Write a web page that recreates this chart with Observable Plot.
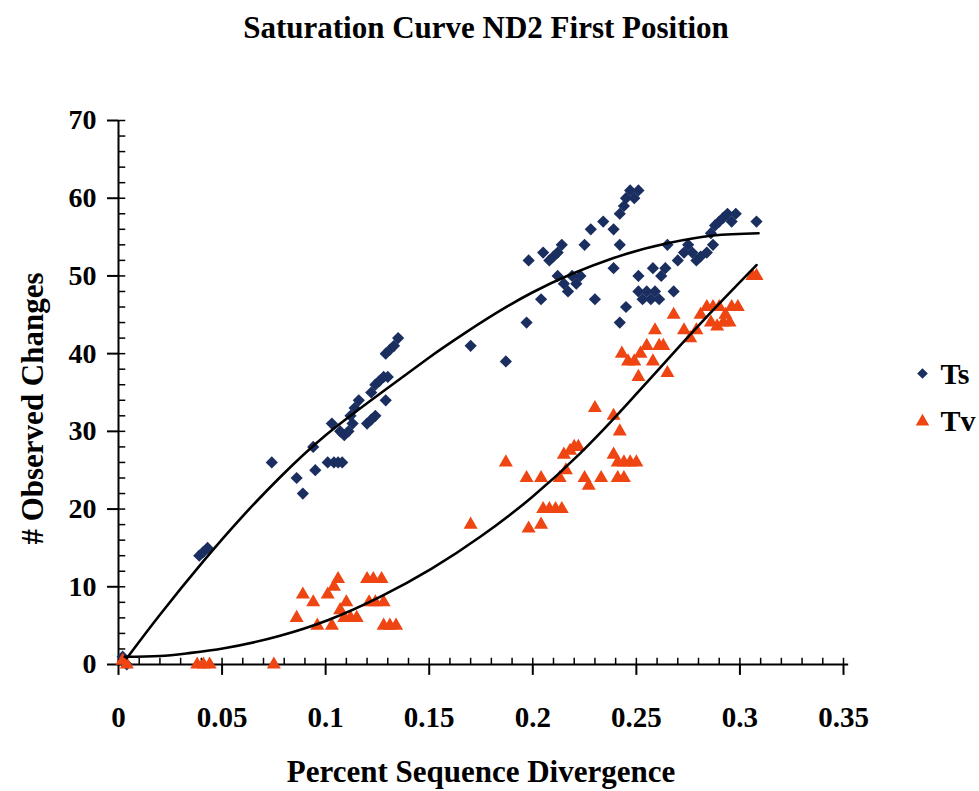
<!DOCTYPE html>
<html>
<head>
<meta charset="utf-8">
<script src="https://cdn.jsdelivr.net/npm/d3@7"></script>
<script src="https://cdn.jsdelivr.net/npm/@observablehq/plot@0.6"></script>
<style>
  html, body { margin: 0; padding: 0; background: #fff; }
</style>
</head>
<body>
<div id="chart"></div>
<script>
// ---- Data ----
const titleText = "Saturation Curve ND2 First Position";
const xTitle = "Percent Sequence Divergence";
const yTitle = "# Observed Changes";
const seriesNames = ["Ts", "Tv"];

const xTicks = [0, 0.05, 0.1, 0.15, 0.2, 0.25, 0.3, 0.35];
const yTicks = [0, 10, 20, 30, 40, 50, 60, 70];

// Ts (transitions) – blue diamonds
const tsX = [0.002,0.004,
  0.039,0.041,0.043,
  0.074,
  0.086,0.089,
  0.094,0.095,
  0.101,0.104,0.106,0.108,
  0.103,0.107,0.109,0.111,0.113,0.112,0.114,0.116,
  0.120,0.122,0.124,
  0.122,0.124,0.126,0.128,0.130,
  0.129,
  0.129,0.131,0.133,0.135,
  0.170,
  0.187,
  0.197,0.198,
  0.204,
  0.205,0.208,0.210,0.212,0.214,
  0.212,0.215,0.217,0.219,0.221,0.223,
  0.225,0.228,0.230,0.234,
  0.239,0.239,0.242,0.242,0.245,
  0.242,0.244,0.245,0.247,0.249,0.251,
  0.251,0.258,
  0.251,0.253,0.255,0.257,0.259,0.261,
  0.262,0.264,
  0.265,0.268,
  0.270,0.273,0.275,0.277,0.279,0.281,0.284,0.287,
  0.286,0.288,0.290,0.292,0.294,0.296,0.298,
  0.308];
const tsY = [1,0,
  14,14.5,15,
  26,
  24,22,
  28,25,
  26,26,26,26,
  31,30,29.5,30,31,32,33,34,
  31,31.5,32,
  35,36,36.5,37,37,
  34,
  40,40.5,41,42,
  41,
  39,
  44,52,
  47,
  53,52,52.5,53,54,
  50,49,48,50,49,50,
  54,56,47,57,
  51,56,54,44,46,
  58,59,60,61,60,61,
  50,51,
  48,47,48,47,48,47,
  50,51,
  54,48,
  52,53,54,53,52,52.5,53,54,
  55.5,56.5,57,57.5,58,57,58,
  57];

// Tv (transversions) – red triangles
const tvX = [0.002,0.004,
  0.038,0.041,0.044,
  0.075,
  0.086,0.089,0.094,0.096,
  0.101,0.103,0.104,0.106,
  0.107,0.110,
  0.109,0.112,0.115,
  0.120,0.123,0.127,
  0.121,0.124,0.128,
  0.128,0.131,0.134,
  0.170,
  0.187,
  0.197,0.198,
  0.204,0.204,
  0.205,0.208,0.211,0.214,
  0.213,0.216,
  0.215,0.218,0.220,0.222,
  0.225,0.227,0.230,0.233,
  0.239,0.239,0.242,
  0.241,0.244,0.247,0.250,
  0.241,0.244,
  0.243,0.246,0.249,0.251,0.252,0.255,0.258,0.259,0.261,0.263,0.265,0.268,
  0.273,0.276,0.279,
  0.281,0.284,0.287,0.290,0.293,0.296,0.299,
  0.286,0.289,0.292,0.295,
  0.306,0.308];
const tvY = [0.5,0,
  0,0,0,
  0,
  6,9,8,5,
  9,5,10,11,
  7,8,
  6,6,6,
  11,11,11,
  8,8,8,
  5,5,5,
  18,
  26,
  24,17.5,
  18,24,
  20,20,20,20,
  24,25,
  27,27.5,28,28,
  24,23,33,24,
  32,27,30,
  26,26,26,26,
  24,24,
  40,39,39,37,40,41,39,43,41,41,37.5,45,
  43,42,43,
  45,46,46,46,45,46,46,
  44,43.5,44,44,
  50,50];

// Trend curves as drawn in the picture
const tsFitX = [0.004,0.020,0.041,0.060,0.078,0.100,0.127,0.150,0.167,0.200,0.239,0.265,0.287,0.309];
const tsFitY = [0.8,6.4,13.3,19.1,24.1,29.5,35.0,39.5,42.6,47.9,52.3,54.2,55.2,55.5];
const tvFitX = [0.003,0.020,0.035,0.051,0.078,0.101,0.127,0.151,0.175,0.199,0.223,0.239,0.251,0.271,0.287,0.308];
const tvFitY = [1.0,1.1,1.5,2.1,3.7,5.7,8.8,12.3,16.5,21.4,27.2,31.6,35.1,41.0,45.6,51.4];

// ---- Build tables ----
const ts = tsX.map((x, i) => ({x, y: tsY[i]}));
const tv = tvX.map((x, i) => ({x, y: tvY[i]}));
const tsFit = tsFitX.map((x, i) => ({x, y: tsFitY[i]}));
const tvFit = tvFitX.map((x, i) => ({x, y: tvFitY[i]}));

const xMinor = d3.range(0, 0.3501, 0.01);
const yMinor = d3.range(0, 70.01, 2);

const blue = "#1b2e60";
const red = "#ee4512";
const font = "'Liberation Serif','Times New Roman',Times,serif";
const txt = {fontWeight: "bold", fill: "#000", lineAnchor: "middle"};

const chart = Plot.plot({
  width: 979,
  height: 791,
  marginLeft: 118,
  marginRight: 136,
  marginTop: 120,
  marginBottom: 127,
  x: {domain: [0, 0.35], axis: null},
  y: {domain: [0, 70], axis: null},
  style: {fontFamily: font, background: "#fff", color: "#000", overflow: "visible"},
  marks: [
    // axes lines
    Plot.ruleY([0], {x1: 0, x2: 0.3525, stroke: "#000", strokeWidth: 2}),
    Plot.ruleX([0], {y1: 0, y2: 70, stroke: "#000", strokeWidth: 2}),
    // x ticks
    Plot.ruleX(xMinor, {x: d => d, y1: 0, y2: 0.8, stroke: "#000", strokeWidth: 1.5}),
    Plot.ruleX(xTicks, {x: d => d, y1: 0, y2: -1.4, stroke: "#000", strokeWidth: 2}),
    // y ticks
    Plot.ruleY(yMinor, {y: d => d, x1: 0, x2: 0.0035, stroke: "#000", strokeWidth: 1.5}),
    Plot.ruleY(yTicks, {y: d => d, x1: -0.0053, x2: 0, stroke: "#000", strokeWidth: 2}),
    // tick labels
    Plot.text(xTicks, {...txt, x: d => d, frameAnchor: "bottom", dy: 53, textAnchor: "middle", text: d => String(d), fontSize: 29}),
    Plot.text(yTicks, {...txt, y: d => d, frameAnchor: "left", dx: -22, textAnchor: "end", text: d => String(d), fontSize: 28}),
    // data
    Plot.dot(ts, {x: "x", y: "y", symbol: "diamond2", r: 5.5, fill: blue, stroke: "none"}),
    Plot.dot(tv, {x: "x", y: "y", symbol: "triangle", r: 5.2, fill: red, stroke: "none"}),
    // trend curves
    Plot.line(tsFit, {x: "x", y: "y", curve: "natural", stroke: "#000", strokeWidth: 2.6}),
    Plot.line(tvFit, {x: "x", y: "y", curve: "monotone-x", stroke: "#000", strokeWidth: 2.6}),
    // titles
    Plot.text([titleText], {...txt, frameAnchor: "top", textAnchor: "middle", dx: 5, dy: -92, text: d => d, fontSize: 31}),
    Plot.text([xTitle], {...txt, frameAnchor: "bottom", textAnchor: "middle", dx: 0, dy: 108, text: d => d, fontSize: 31}),
    Plot.text([yTitle], {...txt, frameAnchor: "left", textAnchor: "middle", dx: -85, dy: 16, rotate: -90, text: d => d, fontSize: 31}),
    // legend
    Plot.dot([seriesNames[0]], {frameAnchor: "top-right", dx: 79, dy: 253, symbol: "diamond2", r: 4.8, fill: blue, stroke: "none"}),
    Plot.text([seriesNames[0]], {...txt, frameAnchor: "top-right", dx: 97, dy: 254, textAnchor: "start", text: d => d, fontSize: 30}),
    Plot.dot([seriesNames[1]], {frameAnchor: "top-right", dx: 79, dy: 301, symbol: "triangle", r: 5, fill: red, stroke: "none"}),
    Plot.text([seriesNames[1]], {...txt, frameAnchor: "top-right", dx: 97, dy: 301, textAnchor: "start", text: d => d, fontSize: 30})
  ]
});
document.getElementById("chart").appendChild(chart);
</script>
</body>
</html>
